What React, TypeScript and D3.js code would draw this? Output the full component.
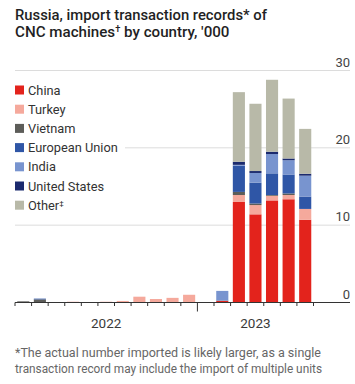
import React from "react";
import * as d3 from "d3";

const months = [
  "2022-02","2022-03","2022-04","2022-05","2022-06","2022-07","2022-08","2022-09","2022-10","2022-11","2022-12",
  "2023-01","2023-02","2023-03","2023-04","2023-05","2023-06","2023-07",
];
const china   = [0.05,0,0,0,0,0,0,0,0,0,0,0,0.2,13.0,11.4,13.2,13.35,10.7];
const turkey  = [0,0,0,0.1,0,0.1,0.2,0.75,0.45,0.6,1.0,0,0,0.9,1.2,0.6,0.55,1.4];
const vietnam = [0.1,0.4,0,0,0,0,0,0,0,0,0,0,0.05,0.4,0.2,0.1,0.2,0];
const eu      = [0,0.1,0,0,0,0,0,0,0,0,0,0,0,3.4,2.7,2.8,2.45,1.6];
const india   = [0,0,0,0,0,0,0,0,0,0,0,0,1.25,0.1,1.25,2.5,1.85,2.7];
const us      = [0,0,0,0,0,0,0,0,0,0,0,0,0,0.4,0.25,0.3,0.22,0.25];
const other   = [0,0,0,0,0,0,0,0,0,0,0,0,0,9.0,8.7,9.3,7.75,5.8];

const seriesKeys = ["China","Turkey","Vietnam","European Union","India","United States","Other"];
const seriesLabels = ["China","Turkey","Vietnam","European Union","India","United States","Other"];
const seriesColors = ["#e3231c","#f5a99c","#5d5d59","#2f56a6","#7894cf","#1b2a6e","#b8b9a8"];
const seriesValues = [china, turkey, vietnam, eu, india, us, other];
const yTicks = [0, 10, 20, 30];
const years = ["2022", "2023"];

export default function App() {
  const W = 355, H = 384;
  const x0 = 15, x1 = 313.5;
  const pad = 0.27;
  const x = d3.scaleBand<string>().domain(months).range([x0, x1]).paddingInner(pad).paddingOuter(pad / 2);
  const step = x.step();
  const y = d3.scaleLinear().domain([0, 30]).range([302.5, 70.5]);

  const table = months.map((m, i) => {
    const row: any = { month: m };
    seriesKeys.forEach((k, j) => (row[k] = seriesValues[j][i]));
    return row;
  });
  const stacked = d3.stack<any>().keys(seriesKeys)(table);

  const tickXs = months.map((m) => (x(m) as number) - (step * pad) / 2);
  tickXs.push(x1);
  const yearBoundary = tickXs[months.indexOf("2023-01")];
  const yearCenters = [(x0 + yearBoundary) / 2, (yearBoundary + x1) / 2];

  const font = "Roboto, 'Noto Sans', sans-serif";

  return (
    <svg width={W} height={H} style={{ position: "absolute", left: 0, top: 0, background: "#fff" }} fontFamily={font}>
      <rect width={W} height={H} fill="#fff" />
      {/* title */}
      <text x={15} y={20} fontSize={14.5} fontWeight={500} fill="#1f1f24" textLength={252} lengthAdjust="spacingAndGlyphs">
        Russia, import transaction records* of
      </text>
      <text x={15} y={37} fontSize={14.5} fontWeight={500} fill="#1f1f24" textLength={214.5} lengthAdjust="spacingAndGlyphs">
        CNC machines<tspan fontSize={9} dy={-5}>†</tspan><tspan dy={5}> by country, '000</tspan>
      </text>

      {/* gridlines */}
      {yTicks.filter((t) => t > 0).map((t) => (
        <line key={t} x1={x0} x2={350} y1={y(t)} y2={y(t)} stroke="#dcdcdc" strokeWidth={1} />
      ))}
      {yTicks.map((t) => (
        <text key={"l" + t} x={350} y={y(t) - 4} textAnchor="end" fontSize={13} fill="#444">
          {t}
        </text>
      ))}

      {/* legend */}
      <rect x={10} y={80} width={115} height={135} fill="#fff" />
      {seriesLabels.map((lab, i) => {
        const cy = 90 + i * 19.2;
        return (
          <g key={lab}>
            <rect x={15} y={cy - 4.5} width={9} height={9} fill={seriesColors[i]} />
            <text x={28} y={cy + 4.5} fontSize={12.8} fill="#333">
              {lab}
              {i === seriesLabels.length - 1 ? <tspan fontSize={8} dy={-4}>‡</tspan> : null}
            </text>
          </g>
        );
      })}

      {/* bars */}
      {stacked.map((s, si) => (
        <g key={s.key} fill={seriesColors[si]}>
          {s.map((d, i) =>
            d[1] - d[0] > 0 ? (
              <rect key={i} x={x(months[i])} width={x.bandwidth()} y={y(d[1])} height={y(d[0]) - y(d[1])} />
            ) : null
          )}
        </g>
      ))}

      {/* axis */}
      <line x1={x0} x2={350} y1={y(0)} y2={y(0)} stroke="#333" strokeWidth={1} />
      {tickXs.map((tx, i) => (
        <line key={i} x1={tx} x2={tx} y1={y(0)} y2={tx === yearBoundary ? y(0) + 9 : y(0) + 3.5} stroke="#333" strokeWidth={1} />
      ))}
      {years.map((yr, i) => (
        <text key={yr} x={yearCenters[i]} y={327.5} textAnchor="middle" fontSize={13.5} fill="#3a3a3a">
          {yr}
        </text>
      ))}

      {/* footnote */}
      <text x={15} y={357} fontSize={12} fill="#666" textLength={306} lengthAdjust="spacingAndGlyphs">
        *The actual number imported is likely larger, as a single
      </text>
      <text x={15} y={373} fontSize={12} fill="#666" textLength={307} lengthAdjust="spacingAndGlyphs">
        transaction record may include the import of multiple units
      </text>
    </svg>
  );
}
